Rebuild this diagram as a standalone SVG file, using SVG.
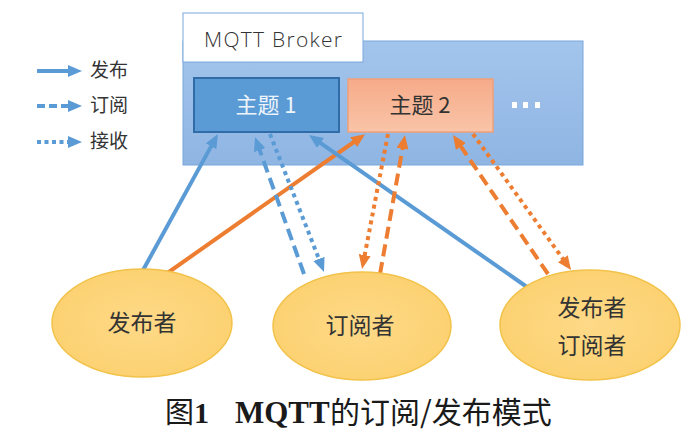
<svg xmlns="http://www.w3.org/2000/svg" width="688" height="448" viewBox="0 0 688 448">
<style>
.t{font-family:"Noto Sans CJK SC","Noto Sans",sans-serif;fill:#333}
.b{stroke:#5b9bd5;stroke-width:4;fill:none}
.o{stroke:#ed7d31;stroke-width:4;fill:none}
.dash{stroke-dasharray:12 6}
.dot{stroke-dasharray:4 4}
.ab{marker-end:url(#ab)}
.ao{marker-end:url(#ao)}
</style>
<defs>
<marker id="ab" markerUnits="userSpaceOnUse" markerWidth="14" markerHeight="12" refX="9" refY="6" orient="auto"><path d="M0,0 L14,6 L0,12 z" fill="#5b9bd5"/></marker>
<marker id="ao" markerUnits="userSpaceOnUse" markerWidth="14" markerHeight="12" refX="9" refY="6" orient="auto"><path d="M0,0 L14,6 L0,12 z" fill="#ed7d31"/></marker>
<linearGradient id="gBroker" x1="0" y1="0" x2="0" y2="1"><stop offset="0" stop-color="#a3c5ec"/><stop offset="1" stop-color="#8fb5e3"/></linearGradient>
<linearGradient id="gT2" x1="0" y1="0" x2="0" y2="1"><stop offset="0" stop-color="#f6ab89"/><stop offset="1" stop-color="#f9c4a8"/></linearGradient>
<radialGradient id="gE" cx="0.5" cy="0.5" r="0.6"><stop offset="0" stop-color="#fed987"/><stop offset="1" stop-color="#fbd06e"/></radialGradient>
</defs>

<g id="legend">
<line class="b ab" x1="37" y1="71" x2="77" y2="71"/>
<text class="t" x="90" y="77" font-size="19">发布</text>
<line class="b ab" x1="37" y1="106" x2="77" y2="106" stroke-dasharray="8 4"/>
<text class="t" x="90" y="112" font-size="19">订阅</text>
<line class="b ab" x1="37" y1="142" x2="77" y2="142" stroke-dasharray="4 3.5"/>
<text class="t" x="90" y="148" font-size="19">接收</text>
</g>

<g id="broker">
<rect x="183" y="41" width="400" height="124" fill="url(#gBroker)" stroke="#7aa7dc" stroke-width="1"/>
<rect x="183" y="13" width="180" height="49" fill="#ffffff" stroke="#7aa7dc" stroke-width="1"/>
<text x="204" y="47" font-family="'Open Sans','Noto Sans',sans-serif" font-weight="300" font-size="21" fill="#333" textLength="138">MQTT Broker</text>
<rect x="512" y="102" width="5" height="6" fill="#ffffff"/>
<rect x="523" y="102" width="5" height="6" fill="#ffffff"/>
<rect x="535" y="102" width="5" height="6" fill="#ffffff"/>
</g>

<g id="topic1">
<rect x="194" y="78" width="145" height="54" fill="#5b9bd5" stroke="#2f6ca8" stroke-width="2"/>
<text class="t" x="266" y="113" font-size="22" text-anchor="middle" style="fill:#eef4fb">主题 1</text>
</g>

<g id="topic2">
<rect x="348" y="79" width="145" height="53" fill="url(#gT2)" stroke="#f0a07a" stroke-width="1.5"/>
<text class="t" x="420" y="113" font-size="22" text-anchor="middle">主题 2</text>
</g>

<g id="connectors">
<line class="b ab" x1="142" y1="272" x2="215.5" y2="138.4"/>
<line class="o ao" x1="166" y1="274" x2="361" y2="137"/>
<line class="b ab dash" x1="304" y1="274" x2="256.7" y2="141.7"/>
<line class="b ab dot" x1="270" y1="134" x2="322.2" y2="267.3"/>
<line class="b ab" x1="527" y1="287" x2="313.1" y2="137.9"/>
<line class="o ao dot" x1="388" y1="134" x2="363" y2="264"/>
<line class="o ao dash" x1="380" y1="274" x2="404.1" y2="139.9"/>
<line class="o ao dash" x1="548" y1="274" x2="455.8" y2="139.1"/>
<line class="o ao dot" x1="473" y1="134" x2="568.1" y2="266"/>
</g>

<g id="publisher">
<ellipse cx="142" cy="323" rx="90" ry="54" fill="url(#gE)" stroke="#f2c24a" stroke-width="1.5"/>
<text class="t" x="142" y="331" font-size="23" text-anchor="middle">发布者</text>
</g>
<g id="subscriber">
<ellipse cx="362" cy="326" rx="89" ry="54" fill="url(#gE)" stroke="#f2c24a" stroke-width="1.5"/>
<text class="t" x="360" y="334" font-size="23" text-anchor="middle">订阅者</text>
</g>
<g id="pubsub">
<ellipse cx="590" cy="325" rx="90" ry="55" fill="url(#gE)" stroke="#f2c24a" stroke-width="1.5"/>
<text class="t" x="592" y="316" font-size="23" text-anchor="middle">发布者</text>
<text class="t" x="592" y="354" font-size="23" text-anchor="middle">订阅者</text>
</g>

<g id="caption">
<text y="423" font-size="30" fill="#1a1a1a" font-family="'Liberation Serif','Noto Sans CJK SC',serif" font-weight="bold"><tspan x="165" font-family="'Noto Sans CJK SC',sans-serif" font-weight="normal" font-size="29">图</tspan><tspan x="194">1</tspan><tspan x="235" font-size="31">MQTT</tspan><tspan x="330" font-family="'Noto Sans CJK SC',sans-serif" font-weight="normal">的订阅/发布模式</tspan></text>
</g>
</svg>
